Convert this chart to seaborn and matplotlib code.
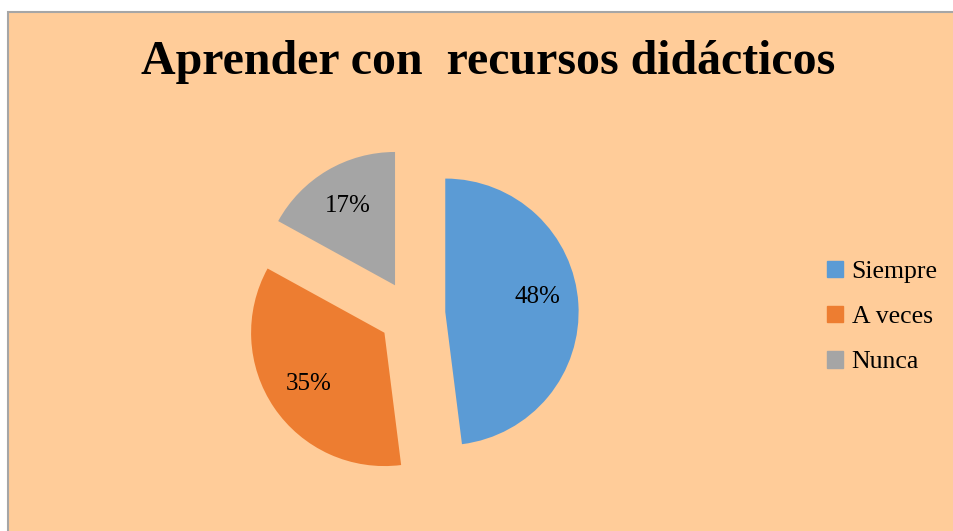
import matplotlib.pyplot as plt
import matplotlib.patches as mpatches
import seaborn as sns
import numpy as np

# datos
categorias = ['Siempre', 'A veces', 'Nunca']
valores = [48, 35, 17]
colores = ['#5B9BD5', '#ED7D31', '#A5A5A5']
titulo = 'Aprender con  recursos didácticos'

sns.set_style('white')
plt.rcParams['font.family'] = ['Liberation Serif', 'DejaVu Serif']
plt.rcParams['text.color'] = 'black'

fig = plt.figure(figsize=(9.54, 5.31), dpi=100)
fig.patch.set_facecolor('white')

# fondo del grafico (borde gris arriba y a la izquierda)
fondo = mpatches.Rectangle((8.5 / 954, -0.05), 1.1, (531 - 11.5) / 531 + 0.05,
                           transform=fig.transFigure, facecolor='#FFCC99',
                           edgecolor='#A6A6A6', linewidth=1.5, zorder=-5)
fig.patches.append(fondo)

ax = fig.add_axes([212 / 954, 17 / 531, 400 / 954, 400 / 531])
ax.set_facecolor('none')
ax.set_zorder(2)

wedges, texts, autotexts = ax.pie(valores, colors=colores, startangle=90,
                                  counterclock=False, explode=[0.25] * 3,
                                  autopct='%1.0f%%', pctdistance=0.69,
                                  textprops={'fontsize': 18, 'color': 'black'},
                                  wedgeprops={'linewidth': 0})
# etiqueta de Siempre un poco mas arriba
x, y = autotexts[0].get_position()
autotexts[0].set_position((x, y + 0.07))

ax.set_xlim(-1.5, 1.5)
ax.set_ylim(-1.5, 1.5)
ax.set_aspect('equal')
ax.axis('off')

fig.text(488 / 954, 1 - 62 / 531, titulo, ha='center', va='center',
         fontsize=34.5, fontweight='bold', color='black')

handles = [mpatches.Patch(color=c_, label=l) for c_, l in zip(colores, categorias)]
leg = fig.legend(handles=handles, loc='center left', bbox_to_anchor=(804 / 954, 1 - 317 / 531),
                 frameon=False, fontsize=18.5, handlelength=0.6, handleheight=0.6,
                 handletextpad=0.35, labelspacing=0.9)
for t in leg.get_texts():
    t.set_color('black')

plt.savefig('out.png', dpi=100)
